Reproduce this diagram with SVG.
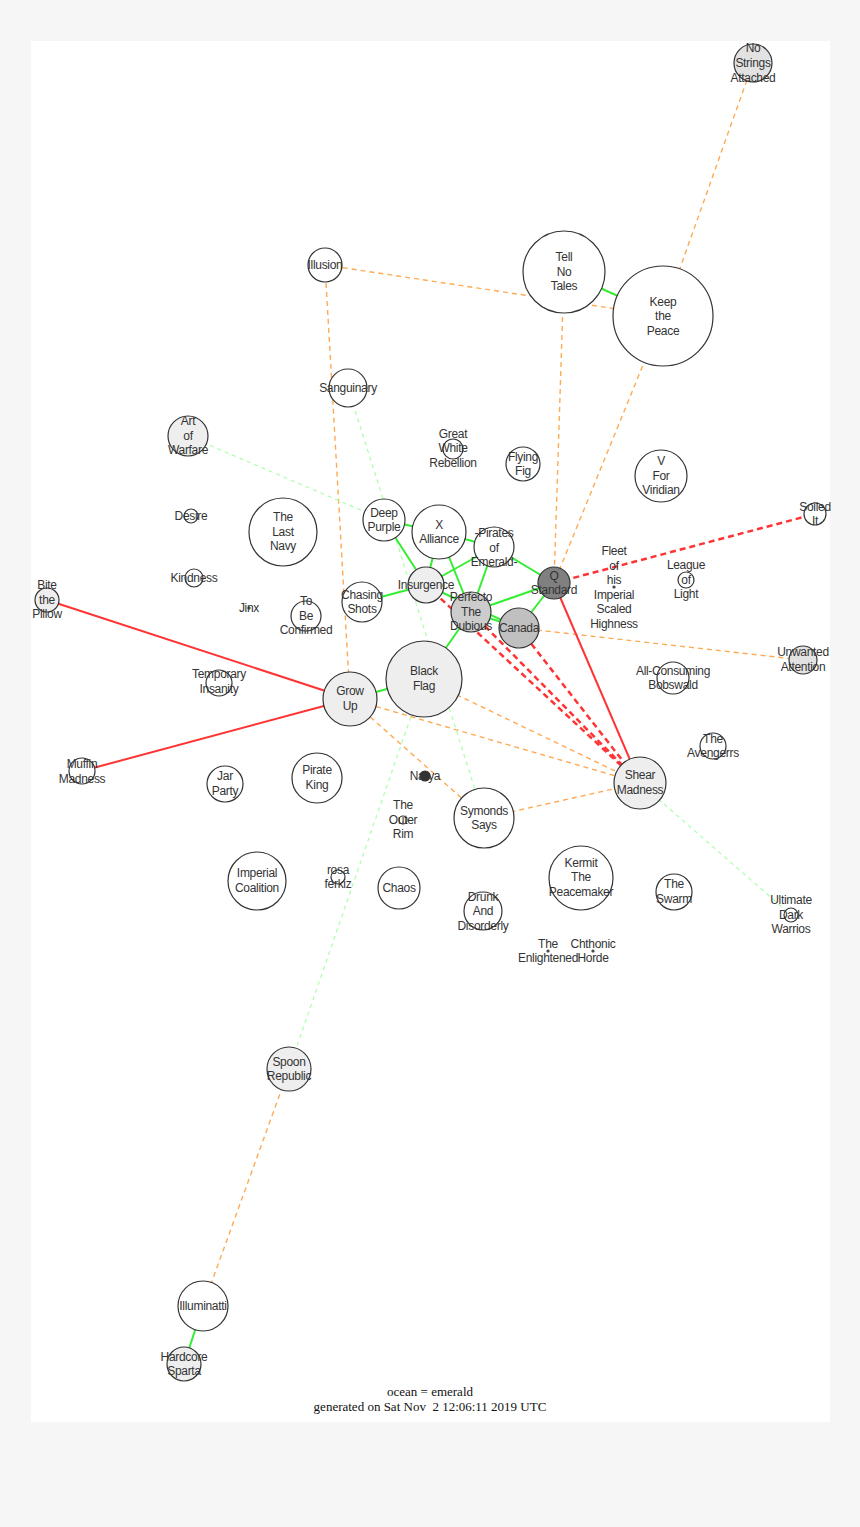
<svg xmlns="http://www.w3.org/2000/svg" width="860" height="1527" viewBox="0 0 860 1527">
<style>
.bg{fill:#f6f6f6}
.panel{fill:#ffffff}
#edges line{fill:none}
.g{stroke:#33ee33;stroke-width:2}
.r{stroke:#ff3333;stroke-width:2}
.rd{stroke:#ff3333;stroke-width:2.5;stroke-dasharray:6 4}
.o{stroke:#ffaa55;stroke-width:1.4;stroke-dasharray:5 4}
.lg{stroke:#aaffaa;stroke-width:1.2;stroke-dasharray:4 4}
.node circle{stroke:#333;stroke-width:1.2;fill:#fff}
.node text{font-family:"Liberation Sans",Arial,sans-serif;font-size:12px;letter-spacing:-0.3px;fill:#333;text-anchor:middle}
.l1{fill:#eeeeee !important}
.l2{fill:#e2e2e2 !important}
.m1{fill:#cccccc !important}
.m2{fill:#c0c0c0 !important}
.d1{fill:#808080 !important}
.d2{fill:#333333 !important}
.foot{font-family:"Liberation Serif","Times New Roman",serif;font-size:13px;fill:#111;text-anchor:middle}
</style>
<rect class="bg" x="0" y="0" width="860" height="1527"/>
<rect class="panel" x="31" y="41" width="799" height="1381"/>
<g id="edges">
<line class="o" x1="753" y1="63" x2="663" y2="316"/>
<line class="o" x1="325" y1="265" x2="663" y2="316"/>
<line class="o" x1="325" y1="265" x2="350" y2="699"/>
<line class="o" x1="564" y1="272" x2="554" y2="583"/>
<line class="o" x1="663" y1="316" x2="554" y2="583"/>
<line class="o" x1="519" y1="628" x2="803" y2="660"/>
<line class="o" x1="350" y1="699" x2="640" y2="783"/>
<line class="o" x1="350" y1="699" x2="484" y2="818"/>
<line class="o" x1="424" y1="679" x2="640" y2="783"/>
<line class="o" x1="484" y1="818" x2="640" y2="783"/>
<line class="o" x1="289" y1="1069" x2="203" y2="1306"/>
<line class="lg" x1="188" y1="436" x2="384" y2="520"/>
<line class="lg" x1="348" y1="388" x2="484" y2="818"/>
<line class="lg" x1="424" y1="679" x2="289" y2="1069"/>
<line class="lg" x1="640" y1="783" x2="791" y2="915"/>
<line class="rd" x1="426" y1="585" x2="640" y2="783"/>
<line class="rd" x1="471" y1="612" x2="640" y2="783"/>
<line class="rd" x1="519" y1="628" x2="640" y2="783"/>
<line class="rd" x1="554" y1="583" x2="815" y2="514"/>
<line class="r" x1="554" y1="583" x2="640" y2="783"/>
<line class="r" x1="47" y1="600" x2="350" y2="699"/>
<line class="r" x1="82" y1="771" x2="350" y2="699"/>
<line class="g" x1="564" y1="272" x2="663" y2="316"/>
<line class="g" x1="384" y1="520" x2="439" y2="532"/>
<line class="g" x1="384" y1="520" x2="426" y2="585"/>
<line class="g" x1="439" y1="532" x2="494" y2="547"/>
<line class="g" x1="439" y1="532" x2="426" y2="585"/>
<line class="g" x1="439" y1="532" x2="471" y2="612"/>
<line class="g" x1="494" y1="547" x2="426" y2="585"/>
<line class="g" x1="494" y1="547" x2="471" y2="612"/>
<line class="g" x1="494" y1="547" x2="554" y2="583"/>
<line class="g" x1="362" y1="602" x2="426" y2="585"/>
<line class="g" x1="426" y1="585" x2="519" y2="628"/>
<line class="g" x1="471" y1="612" x2="554" y2="583"/>
<line class="g" x1="554" y1="583" x2="519" y2="628"/>
<line class="g" x1="471" y1="612" x2="519" y2="628"/>
<line class="g" x1="471" y1="612" x2="424" y2="679"/>
<line class="g" x1="424" y1="679" x2="350" y2="699"/>
<line class="g" x1="203" y1="1306" x2="184" y2="1364"/>
</g>
<g id="n-no-strings" class="node"><circle class="l2" cx="753" cy="63" r="19"/><text x="753" y="52">No</text><text x="753" y="67">Strings</text><text x="753" y="82">Attached</text></g>
<g id="n-illusion" class="node"><circle cx="325" cy="265" r="17"/><text x="325" y="269">Illusion</text></g>
<g id="n-tell-no-tales" class="node"><circle cx="564" cy="272" r="41"/><text x="564" y="261">Tell</text><text x="564" y="276">No</text><text x="564" y="290">Tales</text></g>
<g id="n-keep-the-peace" class="node"><circle cx="663" cy="316" r="50"/><text x="663" y="306">Keep</text><text x="663" y="320">the</text><text x="663" y="335">Peace</text></g>
<g id="n-sanguinary" class="node"><circle cx="348" cy="388" r="19"/><text x="348" y="392">Sanguinary</text></g>
<g id="n-art-of-warfare" class="node"><circle class="l1" cx="188" cy="436" r="20"/><text x="188" y="425">Art</text><text x="188" y="440">of</text><text x="188" y="454">Warfare</text></g>
<g id="n-great-white" class="node"><circle cx="453" cy="449" r="10"/><text x="453" y="438">Great</text><text x="453" y="452">White</text><text x="453" y="467">Rebellion</text></g>
<g id="n-flying-fig" class="node"><circle cx="523" cy="464" r="17"/><text x="523" y="461">Flying</text><text x="523" y="475">Fig</text></g>
<g id="n-v-for-viridian" class="node"><circle cx="661" cy="476" r="26"/><text x="661" y="465">V</text><text x="661" y="480">For</text><text x="661" y="494">Viridian</text></g>
<g id="n-soiled-it" class="node"><circle cx="815" cy="514" r="11"/><text x="815" y="511">Soiled</text><text x="815" y="525">It</text></g>
<g id="n-desire" class="node"><circle cx="191" cy="516" r="7"/><text x="191" y="520">Desire</text></g>
<g id="n-last-navy" class="node"><circle cx="283" cy="532" r="34"/><text x="283" y="521">The</text><text x="283" y="536">Last</text><text x="283" y="550">Navy</text></g>
<g id="n-deep-purple" class="node"><circle cx="384" cy="520" r="21"/><text x="384" y="517">Deep</text><text x="384" y="531">Purple</text></g>
<g id="n-x-alliance" class="node"><circle cx="439" cy="532" r="27"/><text x="439" y="529">X</text><text x="439" y="543">Alliance</text></g>
<g id="n-pirates" class="node"><circle cx="494" cy="547" r="20"/><text x="494" y="537">-Pirates</text><text x="494" y="552">of</text><text x="494" y="566">Emerald-</text></g>
<g id="n-fleet" class="node"><circle cx="614" cy="587" r="1"/><text x="614" y="555">Fleet</text><text x="614" y="570">of</text><text x="614" y="584">his</text><text x="614" y="599">Imperial</text><text x="614" y="613">Scaled</text><text x="614" y="628">Highness</text></g>
<g id="n-league" class="node"><circle cx="686" cy="580" r="8"/><text x="686" y="569">League</text><text x="686" y="584">of</text><text x="686" y="598">Light</text></g>
<g id="n-kindness" class="node"><circle cx="194" cy="578" r="9"/><text x="194" y="582">Kindness</text></g>
<g id="n-bite" class="node"><circle class="l1" cx="47" cy="600" r="12"/><text x="47" y="589">Bite</text><text x="47" y="604">the</text><text x="47" y="618">Pillow</text></g>
<g id="n-jinx" class="node"><circle cx="249" cy="608" r="1"/><text x="249" y="612">Jinx</text></g>
<g id="n-tbc" class="node"><circle cx="306" cy="616" r="15"/><text x="306" y="605">To</text><text x="306" y="620">Be</text><text x="306" y="634">Confirmed</text></g>
<g id="n-chasing" class="node"><circle cx="362" cy="602" r="20"/><text x="362" y="599">Chasing</text><text x="362" y="613">Shots</text></g>
<g id="n-insurgence" class="node"><circle class="l1" cx="426" cy="585" r="18"/><text x="426" y="589">Insurgence</text></g>
<g id="n-perfecto" class="node"><circle class="m1" cx="471" cy="612" r="20"/><text x="471" y="601">Perfecto</text><text x="471" y="616">The</text><text x="471" y="630">Dubious</text></g>
<g id="n-canada" class="node"><circle class="m2" cx="519" cy="628" r="20"/><text x="519" y="632">Canada</text></g>
<g id="n-q-standard" class="node"><circle class="d1" cx="554" cy="583" r="16"/><text x="554" y="580">Q</text><text x="554" y="594">Standard</text></g>
<g id="n-unwanted" class="node"><circle class="l2" cx="803" cy="660" r="14"/><text x="803" y="656">Unwanted</text><text x="803" y="671">Attention</text></g>
<g id="n-temporary" class="node"><circle cx="219" cy="683" r="13"/><text x="219" y="678">Temporary</text><text x="219" y="693">Insanity</text></g>
<g id="n-bobswald" class="node"><circle cx="673" cy="678" r="16"/><text x="673" y="675">All-Consuming</text><text x="673" y="689">Bobswald</text></g>
<g id="n-black-flag" class="node"><circle class="l1" cx="424" cy="679" r="38"/><text x="424" y="675">Black</text><text x="424" y="690">Flag</text></g>
<g id="n-grow-up" class="node"><circle class="l1" cx="350" cy="699" r="27"/><text x="350" y="695">Grow</text><text x="350" y="710">Up</text></g>
<g id="n-avengerrs" class="node"><circle cx="713" cy="746" r="13"/><text x="713" y="743">The</text><text x="713" y="757">Avengerrs</text></g>
<g id="n-muffin" class="node"><circle cx="82" cy="771" r="13"/><text x="82" y="768">Muffin</text><text x="82" y="783">Madness</text></g>
<g id="n-jar-party" class="node"><circle cx="225" cy="784" r="18"/><text x="225" y="780">Jar</text><text x="225" y="795">Party</text></g>
<g id="n-pirate-king" class="node"><circle cx="317" cy="778" r="25"/><text x="317" y="774">Pirate</text><text x="317" y="789">King</text></g>
<g id="n-narya" class="node"><circle class="d2" cx="425" cy="776" r="5"/><text x="425" y="780">Narya</text></g>
<g id="n-shear" class="node"><circle class="l1" cx="640" cy="783" r="26"/><text x="640" y="779">Shear</text><text x="640" y="794">Madness</text></g>
<g id="n-outer-rim" class="node"><circle cx="403" cy="820" r="4"/><text x="403" y="809">The</text><text x="403" y="824">Outer</text><text x="403" y="838">Rim</text></g>
<g id="n-symonds" class="node"><circle cx="484" cy="818" r="30"/><text x="484" y="815">Symonds</text><text x="484" y="829">Says</text></g>
<g id="n-imperial" class="node"><circle cx="257" cy="881" r="29"/><text x="257" y="877">Imperial</text><text x="257" y="892">Coalition</text></g>
<g id="n-rosa" class="node"><circle cx="338" cy="877" r="7"/><text x="338" y="874">rosa</text><text x="338" y="888">ferkiz</text></g>
<g id="n-chaos" class="node"><circle cx="399" cy="888" r="21"/><text x="399" y="892">Chaos</text></g>
<g id="n-kermit" class="node"><circle cx="581" cy="878" r="32"/><text x="581" y="867">Kermit</text><text x="581" y="881">The</text><text x="581" y="896">Peacemaker</text></g>
<g id="n-swarm" class="node"><circle cx="674" cy="892" r="18"/><text x="674" y="888">The</text><text x="674" y="903">Swarm</text></g>
<g id="n-drunk" class="node"><circle cx="483" cy="911" r="19"/><text x="483" y="901">Drunk</text><text x="483" y="915">And</text><text x="483" y="930">Disorderly</text></g>
<g id="n-ultimate" class="node"><circle cx="791" cy="915" r="7"/><text x="791" y="904">Ultimate</text><text x="791" y="919">Dark</text><text x="791" y="933">Warrios</text></g>
<g id="n-enlightened" class="node"><circle cx="548" cy="951" r="1"/><text x="548" y="948">The</text><text x="548" y="962">Enlightened</text></g>
<g id="n-chthonic" class="node"><circle cx="593" cy="951" r="1"/><text x="593" y="948">Chthonic</text><text x="593" y="962">Horde</text></g>
<g id="n-spoon" class="node"><circle class="l1" cx="289" cy="1069" r="22"/><text x="289" y="1066">Spoon</text><text x="289" y="1080">Republic</text></g>
<g id="n-illuminatti" class="node"><circle cx="203" cy="1306" r="25"/><text x="203" y="1310">Illuminatti</text></g>
<g id="n-hardcore" class="node"><circle class="l1" cx="184" cy="1364" r="17"/><text x="184" y="1361">Hardcore</text><text x="184" y="1375">Sparta</text></g>
<g id="footer"><text class="foot" x="430" y="1396">ocean = emerald</text><text class="foot" x="430" y="1411" xml:space="preserve">generated on Sat Nov  2 12:06:11 2019 UTC</text></g>
</svg>
